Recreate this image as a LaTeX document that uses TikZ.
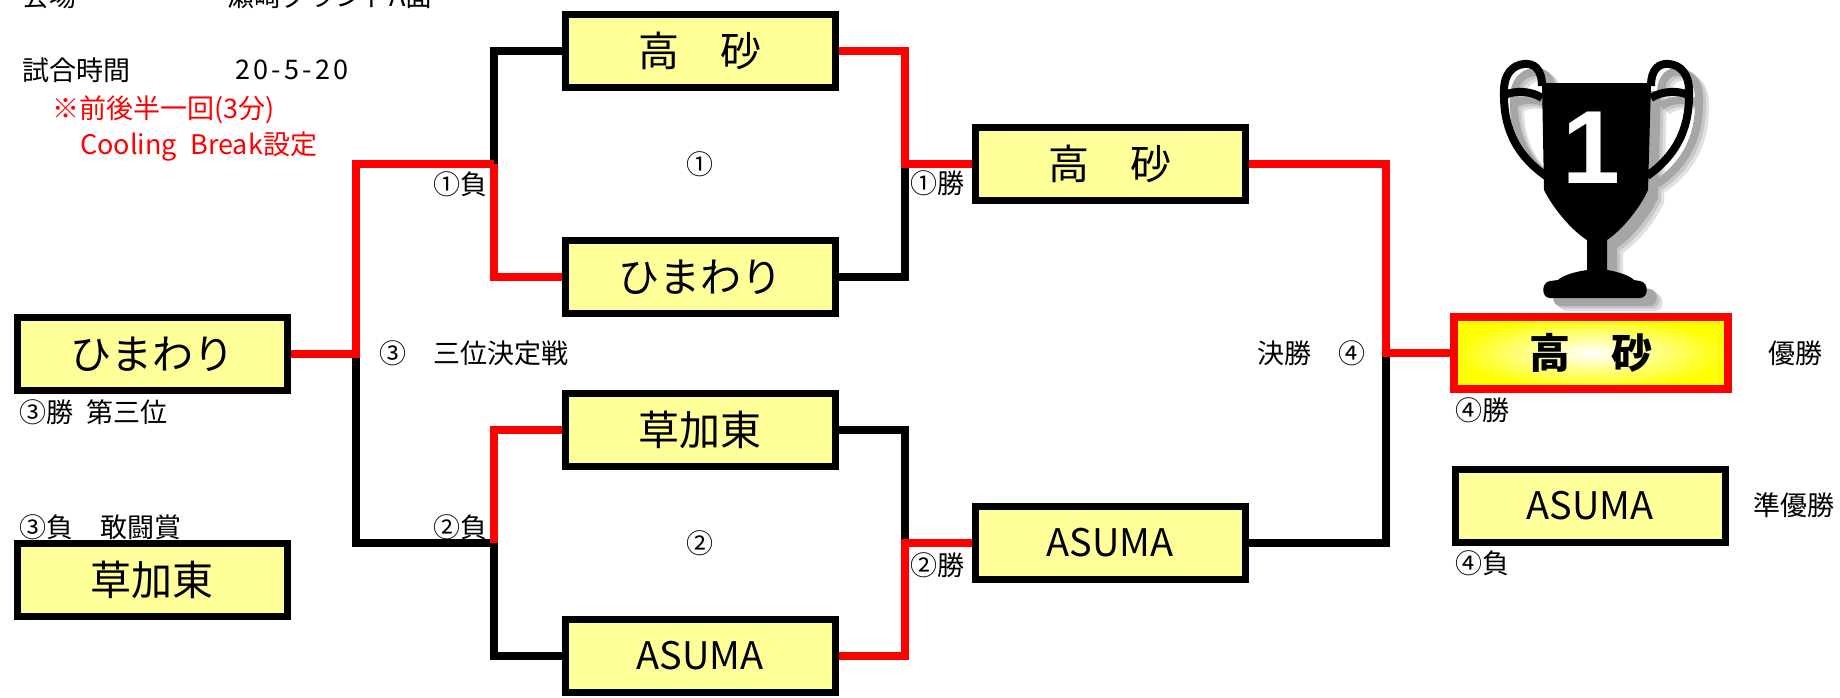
\documentclass[tikz,border=0pt]{standalone}
\usepackage{fontspec}
\setmainfont{Noto Sans CJK JP}
\newfontfamily\numfont{Liberation Sans}
\usetikzlibrary{backgrounds}
\definecolor{boxyellow}{RGB}{255,255,153}
\newcommand{\trophyshape}[1]{%
  \fill[#1] (1542,83) -- (1651,83) -- (1648,190)
    .. controls (1640,208) and (1622,230) .. (1607,240) -- (1607,270)
    .. controls (1620,272) and (1630,276) .. (1634,280) -- (1640,281)
    .. controls (1649,282) and (1649,298) .. (1640,298) -- (1550,298)
    .. controls (1541,298) and (1541,282) .. (1550,281) -- (1558,280)
    .. controls (1562,276) and (1573,272) .. (1587,270) -- (1587,240)
    .. controls (1571,230) and (1553,208) .. (1544,190) -- cycle;
  \draw[#1,line width=8pt] (1542,86) .. controls (1542,68) and (1533,63) .. (1524,64)
    .. controls (1512,65) and (1504,75) .. (1504,90)
    .. controls (1503,122) and (1512,152) .. (1546,176)
    (1505,95) .. controls (1515,90) and (1532,91) .. (1542,98);
  \draw[#1,line width=8pt] (1651,86) .. controls (1651,68) and (1660,63) .. (1669,64)
    .. controls (1681,65) and (1689,75) .. (1689,90)
    .. controls (1690,122) and (1681,152) .. (1647,176)
    (1688,95) .. controls (1678,90) and (1661,91) .. (1651,98);
}

\begin{document}
\begin{tikzpicture}[x=1pt,y=-1pt,team/.style={draw,line width=7pt,fill=boxyellow,minimum width=270pt,minimum height=73pt,inner sep=0pt,font=\fontsize{41}{41}\selectfont},champion/.style={team,draw=red,line width=7.5pt,minimum width=274pt,minimum height=72pt,shade,shading=radial,inner color=white,outer color=yellow,font=\bfseries\fontsize{41}{41}\selectfont},latin/.style={font=\fontsize{38}{38}\selectfont},note/.style={inner sep=0pt,font=\fontsize{27}{27}\selectfont},win/.style={red,line width=7.5pt},lose/.style={black,line width=7.5pt}]
\useasboundingbox (0,0) rectangle (1840,697);

\node[note,anchor=base west] (venuelbl) at (22,6) {会場};
\node[note,anchor=base west] (venue) at (227,6) {瀬崎グランドA面};
\node[note,anchor=west] (timelbl) at (22,70) {試合時間};
\node[note,anchor=west] (timeval) at (235,70) {\addfontfeature{LetterSpace=12}20-5-20};
\node[note,anchor=west,text=red] (breaknote) at (52,110) {※前後半一回(3分)};
\node[note,anchor=west,text=red] (breakset) at (80,147) {Cooling\enspace Break設定};

\node[team] (A1) at (700,51) {高　砂};
\node[team] (A2) at (700,277) {ひまわり};
\node[team] (C1) at (700,430) {草加東};
\node[team,latin] (C2) at (700,656) {ASUMA};
\node[team] (B1) at (1110,164) {高　砂};
\node[team,latin] (B2) at (1110,543) {ASUMA};
\node[team] (L1) at (152,354) {ひまわり};
\node[team] (L2) at (152,580) {草加東};
\node[champion] (W) at (1591,353) {高　砂};
\node[team,latin] (R) at (1590,506) {ASUMA};

\node[note] (m1no) at (700,164) {①};
\node[note] (m2no) at (700,543) {②};
\node[note,anchor=east] (m1lose) at (488,184) {①負};
\node[note,anchor=east] (m2lose) at (488,527) {②負};
\node[note,anchor=west] (m1win) at (910,183) {①勝};
\node[note,anchor=west] (m2win) at (910,565) {②勝};
\node[note,anchor=west] (m3name) at (379,353) {③　三位決定戦};
\node[note,anchor=west] (l1win) at (19,412) {③勝\enspace 第三位};
\node[note,anchor=west] (l2lose) at (19,527) {③負　敢闘賞};
\node[note,anchor=east] (m4name) at (1366,353) {決勝　④};
\node[note,anchor=west] (wwin) at (1455,410) {④勝};
\node[note,anchor=west] (rlose) at (1455,563) {④負};
\node[note,anchor=west] (champ) at (1768,353) {優勝};
\node[note,anchor=west] (runner) at (1753,505) {準優勝};

\foreach \dx/\tone in {16/12,13/22,10/35}{
  \begin{scope}[shift={(\dx,0.8*\dx)}]
    \trophyshape{black!\tone}
  \end{scope}}
\trophyshape{black}
\node[text=white,inner sep=0pt,font=\numfont\bfseries\fontsize{104}{104}\selectfont] (cupno) at (1591,148) {1};

\begin{pgfonlayer}{background}
\coordinate (m1l) at (494,164);
\coordinate (m1r) at (905,164);
\coordinate (m2l) at (494,543);
\coordinate (m2r) at (905,543);
\coordinate (m3) at (356,354);
\coordinate (m4) at (1386,353);
\draw[lose] (A1.west) -| (m1l);
\draw[lose] (A2.east) -| (m1r);
\draw[lose] (C1.east) -| (m2r);
\draw[lose] (m2l) |- (C2.west);
\draw[lose] (m3) |- (m2l);
\draw[lose] (B2.east) -| (m4);
\draw[win] (m1l) |- (A2.west);
\draw[win] (A1.east) -| (m1r) -- (B1.west);
\draw[win] (C1.west) -| (m2l);
\draw[win] (C2.east) -| (m2r) -- (B2.west);
\draw[win] (L1.east) -- (m3) |- (m1l);
\draw[win] (B1.east) -| (m4) -- (W.west);
\end{pgfonlayer}
\end{tikzpicture}
\end{document}
